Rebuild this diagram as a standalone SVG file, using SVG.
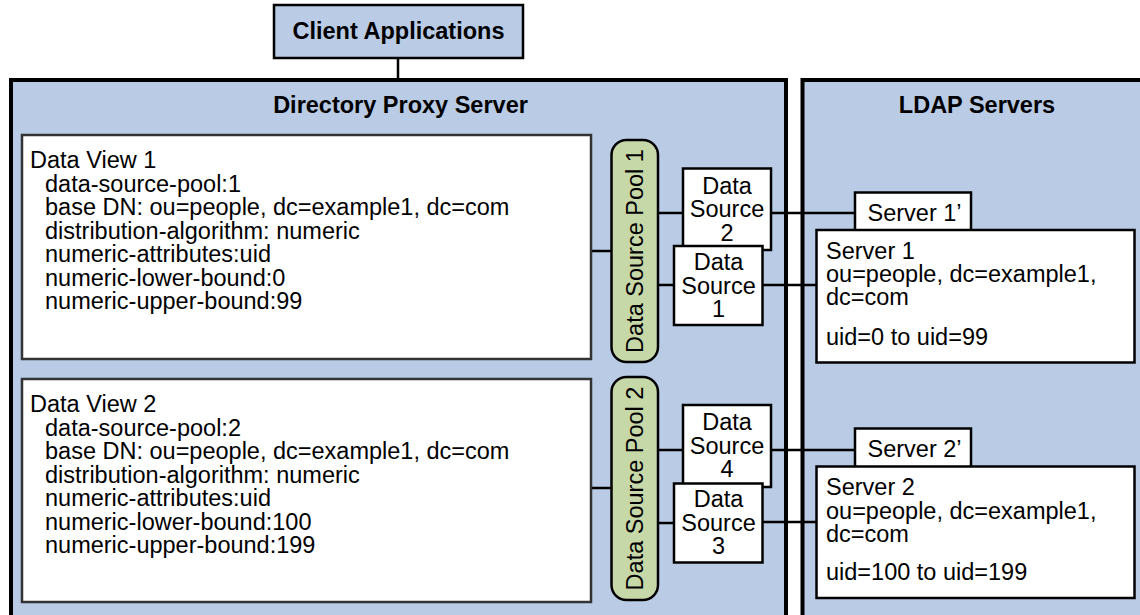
<svg xmlns="http://www.w3.org/2000/svg" width="1140" height="615" viewBox="0 0 1140 615">
<style>
text{font-family:"Liberation Sans",Arial,sans-serif;font-size:23.5px;fill:#000}
.b{font-weight:bold;font-size:23.5px}
.m{text-anchor:middle}
.blue{fill:#b9cbe5;stroke:#000}
.wbox{fill:#fff;stroke:#000;stroke-width:2.5}
.dv{fill:#fff;stroke:#333;stroke-width:2.5}
.pool{fill:#c7d8a8;stroke:#000;stroke-width:2.5}
.ln{stroke:#000;stroke-width:2.5;fill:none}
</style>
<rect width="1140" height="615" fill="#fff"/>
<g id="dps">
<rect class="blue" x="11" y="80" width="775" height="560" stroke-width="4"/>
<text class="b m" x="400.5" y="113">Directory Proxy Server</text>
</g>
<g id="ldap">
<rect class="blue" x="802.5" y="80" width="360" height="560" stroke-width="4"/>
<text class="b m" x="977" y="113">LDAP Servers</text>
</g>
<g id="connectors">
<line class="ln" x1="398" y1="58" x2="398" y2="80"/>
<line class="ln" x1="591" y1="251" x2="612" y2="251"/>
<line class="ln" x1="591" y1="488" x2="612" y2="488"/>
<line class="ln" x1="658" y1="213" x2="683" y2="213"/>
<line class="ln" x1="770" y1="213" x2="855" y2="213"/>
<line class="ln" x1="658" y1="285" x2="674" y2="285"/>
<line class="ln" x1="762" y1="285" x2="816" y2="285"/>
<line class="ln" x1="658" y1="450" x2="683" y2="450"/>
<line class="ln" x1="770" y1="450" x2="855" y2="450"/>
<line class="ln" x1="658" y1="523" x2="674" y2="523"/>
<line class="ln" x1="762" y1="522" x2="816" y2="522"/>
</g>
<g id="client">
<rect class="blue" x="274" y="5" width="249" height="53" stroke-width="2.5"/>
<text class="b m" x="398.5" y="39">Client Applications</text>
</g>
<g id="dataview1">
<rect class="dv" x="22" y="135" width="569" height="224"/>
<text x="30" y="168">Data View 1</text>
<text x="45" y="191.5">data-source-pool:1</text>
<text x="45" y="215">base DN: ou=people, dc=example1, dc=com</text>
<text x="45" y="238.5">distribution-algorithm: numeric</text>
<text x="45" y="262">numeric-attributes:uid</text>
<text x="45" y="285.5">numeric-lower-bound:0</text>
<text x="45" y="309">numeric-upper-bound:99</text>
</g>
<g id="dataview2">
<rect class="dv" x="22" y="379" width="569" height="223"/>
<text x="30" y="412">Data View 2</text>
<text x="45" y="435.5">data-source-pool:2</text>
<text x="45" y="459">base DN: ou=people, dc=example1, dc=com</text>
<text x="45" y="482.5">distribution-algorithm: numeric</text>
<text x="45" y="506">numeric-attributes:uid</text>
<text x="45" y="529.5">numeric-lower-bound:100</text>
<text x="45" y="553">numeric-upper-bound:199</text>
</g>
<g id="pool1">
<rect class="pool" x="611.5" y="140" width="46.5" height="222" rx="15"/>
<text class="m" transform="translate(643,251) rotate(-90)">Data Source Pool 1</text>
</g>
<g id="pool2">
<rect class="pool" x="611.5" y="377" width="46.5" height="223" rx="15"/>
<text class="m" transform="translate(643,488.5) rotate(-90)">Data Source Pool 2</text>
</g>
<g id="ds2">
<rect class="wbox" x="683" y="168.5" width="88" height="81.5"/>
<text class="m" x="727" y="193.5">Data</text>
<text class="m" x="727" y="217">Source</text>
<text class="m" x="727" y="240.5">2</text>
</g>
<g id="ds1">
<rect class="wbox" x="674" y="246" width="88.5" height="79"/>
<text class="m" x="718.5" y="269.5">Data</text>
<text class="m" x="718.5" y="293.5">Source</text>
<text class="m" x="718.5" y="317">1</text>
</g>
<g id="ds4">
<rect class="wbox" x="683" y="405" width="88" height="82"/>
<text class="m" x="727" y="430">Data</text>
<text class="m" x="727" y="453.5">Source</text>
<text class="m" x="727" y="477">4</text>
</g>
<g id="ds3">
<rect class="wbox" x="674" y="483.5" width="88.5" height="79"/>
<text class="m" x="718.5" y="506.5">Data</text>
<text class="m" x="718.5" y="530.5">Source</text>
<text class="m" x="718.5" y="554">3</text>
</g>
<g id="server1p">
<rect class="wbox" x="855" y="192.5" width="116" height="40"/>
<text x="867.5" y="221">Server 1’</text>
</g>
<g id="server1">
<rect class="wbox" x="816.5" y="230" width="318" height="132.5"/>
<text x="826" y="258.5">Server 1</text>
<text x="826" y="282">ou=people, dc=example1,</text>
<text x="826" y="305">dc=com</text>
<text x="826" y="345">uid=0 to uid=99</text>
</g>
<g id="server2p">
<rect class="wbox" x="855" y="428.5" width="116" height="40"/>
<text x="867.5" y="457">Server 2’</text>
</g>
<g id="server2">
<rect class="wbox" x="816.5" y="466.5" width="318" height="131.5"/>
<text x="826" y="495">Server 2</text>
<text x="826" y="518.5">ou=people, dc=example1,</text>
<text x="826" y="541.5">dc=com</text>
<text x="826" y="580">uid=100 to uid=199</text>
</g>
</svg>
